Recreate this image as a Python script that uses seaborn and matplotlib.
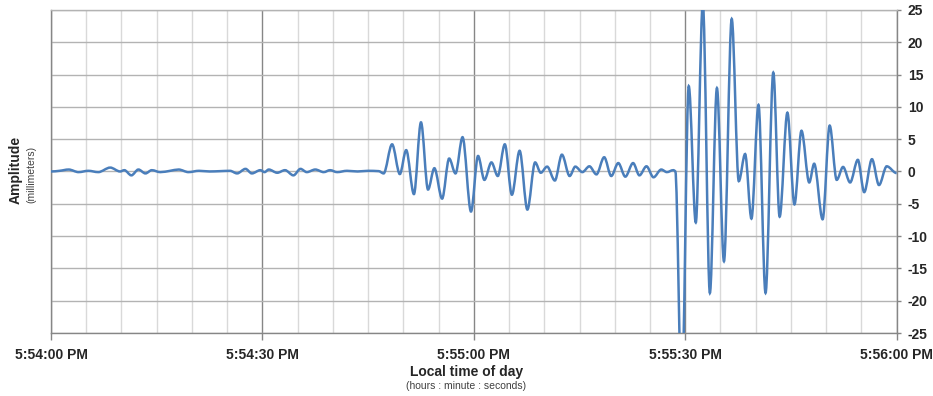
import numpy as np
import pandas as pd
import seaborn as sns
import matplotlib.pyplot as plt
from matplotlib.path import Path
from matplotlib.patches import PathPatch

# seconds after 5:54:00 PM (peaks / troughs of the trace)
seconds = [0, 1.2, 2.5, 3.9, 5.3, 6.7, 8.4, 9.8, 10.4, 11.4, 12.4, 13.4, 14.3, 15.5,
           16.9, 18.1, 19.5, 21.0, 22.5, 24.0, 25.4, 26.4, 27.6, 28.5, 29.7, 30.3,
           30.9, 32.1, 33.2, 34.4, 35.4, 36.3, 37.5, 38.7, 39.6, 40.6, 42.0, 43.5,
           45.0, 46.5, 47.2, 48.4, 49.5, 50.4, 51.5, 52.5, 53.5, 54.4, 55.5, 56.5,
           57.4, 58.4, 59.6, 60.6, 61.5, 62.5, 63.4, 64.4, 65.4, 66.5, 67.6, 68.7,
           69.5, 70.4, 71.5, 72.5, 73.6, 74.4, 75.4, 76.4, 77.4, 78.5, 79.5, 80.5,
           81.5, 82.6, 83.5, 84.5, 85.5, 86.6, 87.4, 88.3, 88.6, 89.5, 90.5, 91.5,
           92.5, 93.5, 94.5, 95.5, 96.6, 97.6, 98.5, 99.4, 100.4, 101.4, 102.5,
           103.4, 104.5, 105.5, 106.5, 107.6, 108.3, 109.5, 110.5, 111.5, 112.4,
           113.4, 114.5, 115.4, 116.5, 117.5, 118.6, 120.0]
amplitude = [0, 0.1, 0.3, -0.1, 0.1, -0.1, 0.6, 0.0, 0.2, -0.6, 0.3, -0.3, 0.2, -0.1,
             0.1, 0.3, -0.1, 0.1, 0.0, 0.05, 0.1, -0.3, 0.4, -0.3, 0.2, -0.1,
             0.3, -0.2, 0.2, -0.6, 0.4, -0.1, 0.3, -0.1, 0.2, -0.1, 0.1, 0.0,
             0.1, 0.05, -0.3, 4.2, -0.4, 3.3, -3.5, 7.6, -2.8, 0.5, -4.2, 2.0,
             -0.3, 5.3, -6.2, 2.4, -1.3, 1.4, -0.7, 4.2, -3.6, 3.2, -5.9, 1.4,
             -0.2, 0.75, -1.4, 2.6, -0.7, 0.75, -0.1, 0.8, -0.45, 2.2, -0.7, 1.3,
             -0.8, 1.3, -0.6, 0.8, -0.9, 0.3, -0.1, 0.2, 0.0, -35, 13.2, -7.9,
             26, -18.8, 12.9, -13.9, 23.6, -1.5, 2.7, -7.3, 10.3, -18.8, 15.3,
             -7.0, 9.1, -5.1, 6.3, -1.7, 1.2, -7.4, 7.1, -1.3, 0.7,
             -1.7, 1.8, -3.2, 1.9, -2.1, 0.8, -0.25]

time_ticks = [0, 30, 60, 90, 120]
time_labels = ["5:54:00 PM", "5:54:30 PM", "5:55:00 PM", "5:55:30 PM", "5:56:00 PM"]
amp_ticks = [-25, -20, -15, -10, -5, 0, 5, 10, 15, 20, 25]

line_color = "#4a7ebb"

df = pd.DataFrame({"t": seconds, "amp": amplitude})


def smooth_path(xy):
    # smoothed line drawn as bezier segments through every point,
    # flat at peaks so the curve never overshoots the read values
    x, y = xy[:, 0], xy[:, 1]
    d = np.diff(y) / np.diff(x)
    m = np.zeros(len(x))
    for i in range(1, len(x) - 1):
        if d[i - 1] * d[i] > 0:
            m[i] = 2 * d[i - 1] * d[i] / (d[i - 1] + d[i])
    verts = [xy[0]]
    codes = [Path.MOVETO]
    for i in range(len(x) - 1):
        h = (x[i + 1] - x[i]) / 3
        verts += [(x[i] + h, y[i] + m[i] * h),
                  (x[i + 1] - h, y[i + 1] - m[i + 1] * h),
                  (x[i + 1], y[i + 1])]
        codes += [Path.CURVE4] * 3
    return Path(np.array(verts), codes)


sns.set_theme(style="white")
plt.rcParams['font.family'] = ['Liberation Sans', 'DejaVu Sans']

fig = plt.figure(figsize=(9.33, 3.96), dpi=100)
ax = fig.add_axes([0.0547, 0.159, 0.9063, 0.816])

sns.lineplot(data=df, x="t", y="amp", ax=ax, color=line_color, linewidth=1.7)
# swap seaborn's straight segments for a smoothed curve through the same points
raw = ax.lines[0]
ax.add_patch(PathPatch(smooth_path(raw.get_xydata()), facecolor="none",
                       edgecolor=line_color, linewidth=1.8, zorder=5))
raw.set_visible(False)

ax.set_xlim(0, 120)
ax.set_ylim(-25, 25)
ax.set_xticks(time_ticks)
ax.set_xticklabels(time_labels, fontsize=10, fontweight="bold")
ax.set_xticks(np.arange(0, 121, 5), minor=True)
ax.set_yticks(amp_ticks)
ax.set_yticklabels([str(v) for v in amp_ticks], fontsize=10, fontweight="bold")
ax.yaxis.tick_right()

ax.grid(which="minor", axis="x", color="#d9d9d9", linewidth=1.0)
ax.grid(which="major", axis="x", color="#868686", linewidth=1.0)
ax.grid(which="major", axis="y", color="#b3b3b3", linewidth=1.0)
ax.set_axisbelow(True)

ax.tick_params(axis="x", which="major", bottom=True, length=5, width=1, color="#868686", pad=6)
ax.tick_params(axis="x", which="minor", bottom=False)
ax.tick_params(axis="y", right=True, left=False, length=3, width=1, color="#868686", pad=5)
for lbl in ax.get_yticklabels():
    lbl.set_horizontalalignment("left")

for side in ["left", "right", "bottom", "top"]:
    ax.spines[side].set_color("#868686")
    ax.spines[side].set_linewidth(1.0)
ax.spines["top"].set_color("#b3b3b3")

ax.set_xlabel("")
ax.set_ylabel("")

fig.text(0.5, 0.06, "Local time of day", ha="center", va="center",
         fontsize=10, fontweight="bold")
fig.text(0.5, 0.025, "(hours : minute : seconds)", ha="center", va="center",
         fontsize=7.5, color="#404040")
fig.text(0.017, 0.57, "Amplitude", ha="center", va="center", rotation=90,
         fontsize=10, fontweight="bold")
fig.text(0.034, 0.56, "(millimeters)", ha="center", va="center", rotation=90,
         fontsize=7.5, color="#404040")

fig.savefig("out.png", dpi=100)
